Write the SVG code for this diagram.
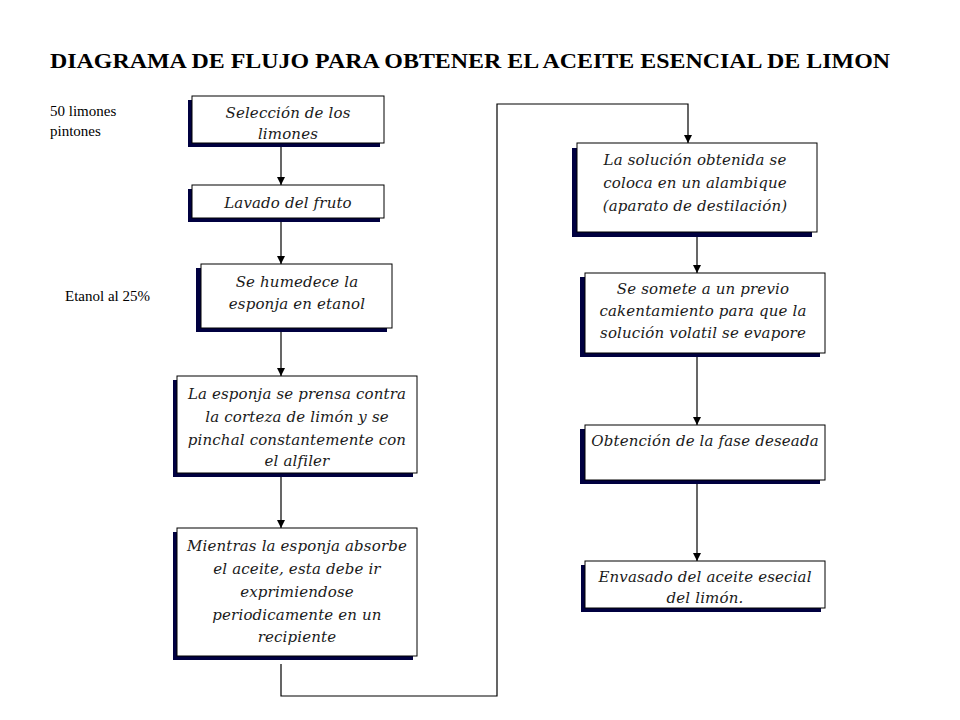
<svg xmlns="http://www.w3.org/2000/svg" width="960" height="720" viewBox="0 0 960 720">
<defs>
<marker id="arr" viewBox="0 0 10 10" refX="10" refY="5" markerWidth="8" markerHeight="8" markerUnits="userSpaceOnUse" orient="auto">
<path d="M0,0 L10,5 L0,10 Z" fill="#000"/>
</marker>
<style>
.sh{fill:#000040;}
.bx{fill:#fff;stroke:#000;stroke-width:1;}
.t{font-family:'DejaVu Serif','Liberation Serif',serif;font-style:italic;font-size:15px;letter-spacing:0.15px;fill:#1a1a1a;text-anchor:middle;}
.lbl{font-family:'Liberation Serif','Times New Roman',serif;font-size:15px;fill:#000;}
.ln{fill:none;stroke:#000;stroke-width:1.2;}
</style>
</defs>
<rect width="960" height="720" fill="#fff"/>
<text x="50" y="68" font-family="'Liberation Serif','Times New Roman',serif" font-weight="bold" font-size="21" textLength="840" lengthAdjust="spacingAndGlyphs">DIAGRAMA DE FLUJO PARA OBTENER EL ACEITE ESENCIAL DE LIMON</text>
<text class="lbl" x="50" y="116">50 limones</text>
<text class="lbl" x="50" y="136">pintones</text>
<text class="lbl" x="65" y="301">Etanol al 25%</text>
<g id="connectors">
<line class="ln" x1="281" y1="143" x2="281" y2="185" marker-end="url(#arr)"/>
<line class="ln" x1="281" y1="218" x2="281" y2="264" marker-end="url(#arr)"/>
<line class="ln" x1="281" y1="332" x2="281" y2="376" marker-end="url(#arr)"/>
<line class="ln" x1="281" y1="477" x2="281" y2="528" marker-end="url(#arr)"/>
<polyline class="ln" points="281,664 281,696 497,696 497,104 688,104 688,143" marker-end="url(#arr)"/>
<line class="ln" x1="697" y1="237" x2="697" y2="273" marker-end="url(#arr)"/>
<line class="ln" x1="697" y1="357" x2="697" y2="425" marker-end="url(#arr)"/>
<line class="ln" x1="697" y1="484" x2="697" y2="561" marker-end="url(#arr)"/>
</g>
<g id="n1">
<rect class="sh" x="188" y="100" width="192" height="47"/>
<rect class="bx" x="192" y="96" width="192" height="47"/>
<text class="t" x="288" y="118">Selección de los</text>
<text class="t" x="288" y="139">limones</text>
</g>
<g id="n2">
<rect class="sh" x="188" y="189" width="192" height="33"/>
<rect class="bx" x="192" y="185" width="192" height="33"/>
<text class="t" x="288" y="208">Lavado del fruto</text>
</g>
<g id="n3">
<rect class="sh" x="196" y="268" width="191" height="64"/>
<rect class="bx" x="201" y="264" width="191" height="64"/>
<text class="t" x="297" y="287">Se humedece la</text>
<text class="t" x="297" y="309">esponja en etanol</text>
</g>
<g id="n4">
<rect class="sh" x="173" y="380" width="240" height="97"/>
<rect class="bx" x="177" y="376" width="240" height="97"/>
<text class="t" x="297" y="399">La esponja se prensa contra</text>
<text class="t" x="297" y="422">la corteza de limón y se</text>
<text class="t" x="297" y="445">pinchal constantemente con</text>
<text class="t" x="297" y="466">el alfiler</text>
</g>
<g id="n5">
<rect class="sh" x="173" y="532" width="240" height="128"/>
<rect class="bx" x="177" y="528" width="240" height="128"/>
<text class="t" x="297" y="551">Mientras la esponja absorbe</text>
<text class="t" x="297" y="574">el aceite, esta debe ir</text>
<text class="t" x="297" y="597">exprimiendose</text>
<text class="t" x="297" y="620">periodicamente  en un</text>
<text class="t" x="297" y="642">recipiente</text>
</g>
<g id="n6">
<rect class="sh" x="572" y="148" width="240" height="89"/>
<rect class="bx" x="577" y="143" width="240" height="89"/>
<text class="t" x="695" y="165">La solución obtenida se</text>
<text class="t" x="695" y="188">coloca en  un alambique</text>
<text class="t" x="695" y="211">(aparato de destilación)</text>
</g>
<g id="n7">
<rect class="sh" x="580" y="277" width="240" height="80"/>
<rect class="bx" x="585" y="273" width="240" height="80"/>
<text class="t" x="703" y="294">Se somete a un previo</text>
<text class="t" x="703" y="316">cakentamiento para que la</text>
<text class="t" x="703" y="338">solución volatil se evapore</text>
</g>
<g id="n8">
<rect class="sh" x="580" y="429" width="240" height="55"/>
<rect class="bx" x="585" y="425" width="240" height="55"/>
<text class="t" x="705" y="446">Obtención de la fase deseada</text>
</g>
<g id="n9">
<rect class="sh" x="581" y="565" width="240" height="47"/>
<rect class="bx" x="585" y="561" width="240" height="47"/>
<text class="t" x="705" y="582">Envasado del aceite esecial</text>
<text class="t" x="705" y="603">del limón.</text>
</g>
</svg>
